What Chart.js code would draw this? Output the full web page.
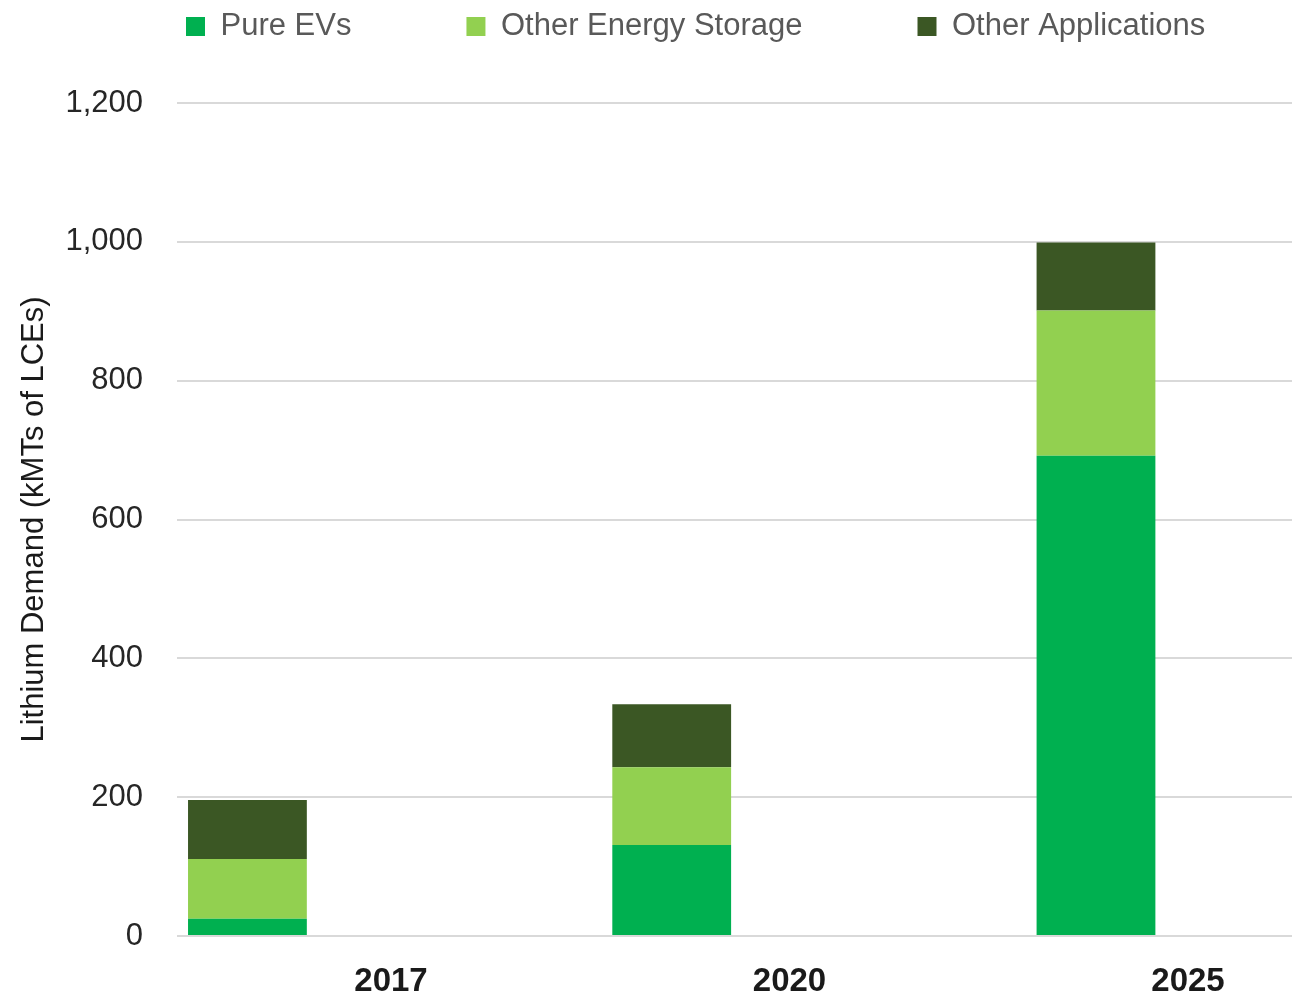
<!DOCTYPE html>
<html>
<head>
<meta charset="utf-8">
<title>Lithium Demand</title>
<script src="https://cdn.jsdelivr.net/npm/chart.js@4.4.1/dist/chart.umd.min.js"></script>
<style>
    html, body { margin: 0; padding: 0; background: #fff; }
    #wrap { width: 1292px; height: 999px; position: relative; }
</style>
</head>
<body>
<div id="wrap"><canvas id="demandChart"></canvas></div>
<script>
// values (kMTs of LCEs)
const years = ['2017', '2020', '2025'];
const pureEVs = [25, 131, 692];
const otherStorage = [86, 112, 209];
const otherApps = [85, 91, 98];
const yTicks = [0, 200, 400, 600, 800, 1000, 1200];

const FONT = '"Liberation Sans", Arial, sans-serif';
const LEGEND_PAD = 115;

// legend sits higher and further right than Chart.js puts it by default
const legendShift = {
    id: 'legendShift',
    afterLayout(chart) {
        const lg = chart.legend;
        if (!lg) return;
        const dx = (186 - LEGEND_PAD) - lg.left;
        lg.left += dx;
        lg.right += dx;
        lg.top = 11 - LEGEND_PAD;
    }
};

const toPoints = arr => arr.map((v, i) => ({ x: i, y: v }));
const indexTicks = s => { s.ticks = years.map((_, i) => ({ value: i })); };

function initChart() {
    const ctx = document.getElementById('demandChart');
    return new Chart(ctx, {
        type: 'bar',
        data: {
            datasets: [
                { label: 'Pure EVs', data: toPoints(pureEVs), backgroundColor: '#00b050' },
                { label: 'Other Energy Storage', data: toPoints(otherStorage), backgroundColor: '#92d050' },
                { label: 'Other Applications', data: toPoints(otherApps), backgroundColor: '#3b5724' }
            ]
        },
        options: {
            responsive: true,
            maintainAspectRatio: false,
            animation: false,
            layout: { padding: 0 },
            datasets: { bar: { categoryPercentage: 1, barPercentage: 0.28, borderWidth: 0 } },
            plugins: {
                tooltip: { enabled: false },
                legend: {
                    position: 'top',
                    align: 'start',
                    maxHeight: 103,
                    labels: {
                        boxWidth: 19,
                        boxHeight: 19,
                        padding: LEGEND_PAD,
                        color: '#595959',
                        font: { family: FONT, size: 31 }
                    }
                }
            },
            scales: {
                x: {
                    type: 'linear',
                    stacked: true,
                    display: false,
                    offset: false,
                    min: -0.166,
                    max: 2.462,
                    afterBuildTicks: indexTicks
                },
                yr: {
                    type: 'linear',
                    position: 'bottom',
                    offset: false,
                    min: -0.537,
                    max: 2.261,
                    afterBuildTicks: indexTicks,
                    afterFit: s => { s.height = 63; },
                    grid: { display: false, drawTicks: false, offset: false },
                    border: { display: false },
                    ticks: {
                        autoSkip: false,
                        maxRotation: 0,
                        padding: 26,
                        color: '#1a1a1a',
                        font: { family: FONT, size: 33, weight: 'bold' },
                        callback: (v, i) => years[i]
                    }
                },
                y: {
                    stacked: true,
                    min: 0,
                    max: 1200,
                    afterBuildTicks: s => { s.ticks = yTicks.map(v => ({ value: v })); },
                    afterFit: s => { s.width = 177; },
                    grid: { color: '#d9d9d9', lineWidth: 2, drawTicks: false },
                    border: { display: false },
                    ticks: {
                        padding: 34,
                        color: '#262626',
                        font: { family: FONT, size: 31 },
                        callback: v => v.toLocaleString('en-US')
                    },
                    title: {
                        display: true,
                        text: 'Lithium Demand (kMTs of LCEs)',
                        color: '#1a1a1a',
                        padding: { top: 16, bottom: 0 },
                        font: { family: FONT, size: 31 }
                    }
                }
            }
        },
        plugins: [legendShift]
    });
}

document.addEventListener('DOMContentLoaded', initChart);
</script>
</body>
</html>
